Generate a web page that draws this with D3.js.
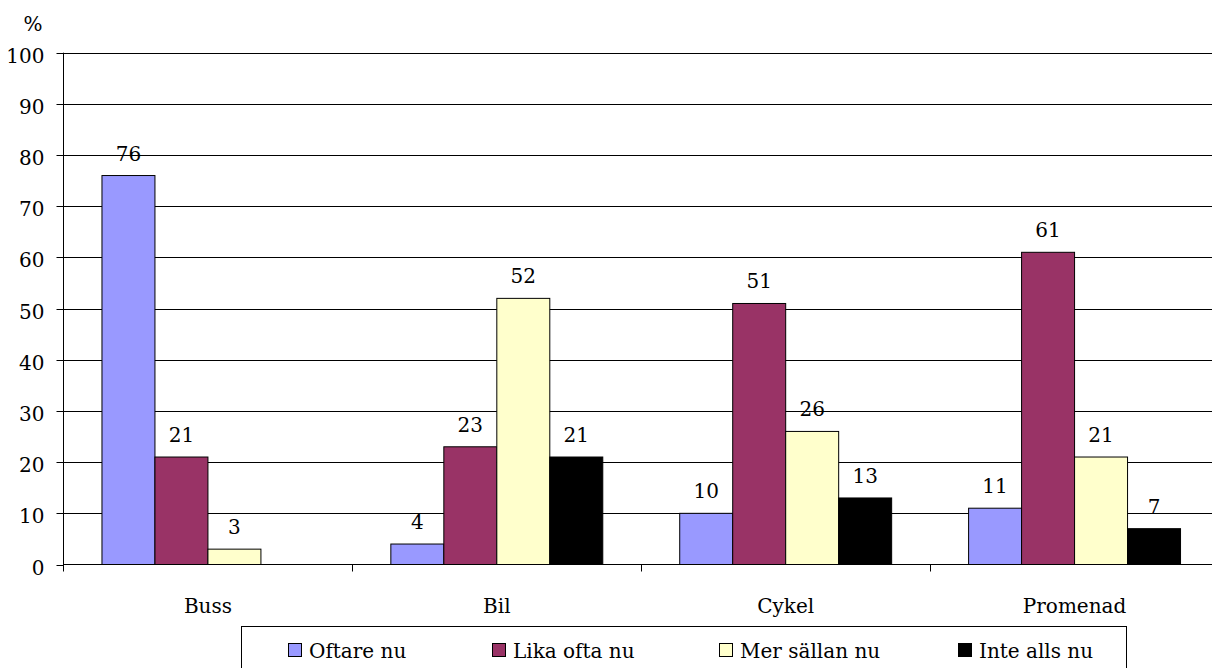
<!DOCTYPE html>
<html>
<head>
<meta charset="utf-8">
<script src="https://cdn.jsdelivr.net/npm/d3@7"></script>
<style>
  html, body { margin: 0; padding: 0; background: #fff; }
  svg { display: block; }
</style>
</head>
<body>
<svg id="chart" width="1212" height="668"></svg>
<script>
// Travel modes and how often each is used now
const categories = ["Buss", "Bil", "Cykel", "Promenad"];
const seriesNames = ["Oftare nu", "Lika ofta nu", "Mer sällan nu", "Inte alls nu"];
const oftareNu    = [76, 4, 10, 11];
const likaOftaNu  = [21, 23, 51, 61];
const merSallanNu = [3, 52, 26, 21];
const inteAllsNu  = [null, 21, 13, 7];
const yTicks = [0, 10, 20, 30, 40, 50, 60, 70, 80, 90, 100];
const seriesColors = ["#9999FF", "#993366", "#FFFFCC", "#000000"];

const seriesValues = [oftareNu, likaOftaNu, merSallanNu, inteAllsNu];
const FONT = "'DejaVu Serif', serif";
const FSIZE = "20px";

const svg = d3.select("#chart");
const plotLeft = 63.5, plotRight = 1219, plotTop = 52.7, plotBottom = 564.5;

const x0 = d3.scaleBand().domain(categories).range([plotLeft, plotRight]).padding(0);
const x1 = d3.scaleBand().domain(seriesNames).range([0, x0.bandwidth()])
  .paddingInner(0).paddingOuter(0.726);
const y = d3.scaleLinear().domain([0, 100]).range([plotBottom, plotTop]);

// horizontal gridlines
svg.append("g")
  .selectAll("line")
  .data(yTicks.filter(d => d > 0))
  .join("line")
  .attr("x1", plotLeft).attr("x2", 1212)
  .attr("y1", d => Math.round(y(d)) + 0.5).attr("y2", d => Math.round(y(d)) + 0.5)
  .attr("stroke", "#000").attr("stroke-width", 1);

// y axis
const yAxis = svg.append("g")
  .attr("transform", `translate(${plotLeft},0)`)
  .call(d3.axisLeft(y).tickValues(yTicks).tickSize(7).tickPadding(12).tickFormat(d3.format("d")));
yAxis.select(".domain").remove();
yAxis.attr("font-family", null).attr("font-size", null);
yAxis.selectAll(".tick line").attr("stroke", "#000");
yAxis.selectAll(".tick").attr("transform", d => `translate(0,${Math.round(y(d)) + 0.5})`);
yAxis.selectAll(".tick text")
  .style("font-family", FONT)
  .style("font-size", FSIZE).attr("fill", "#000").attr("dy", "0.45em");
svg.append("line")
  .attr("x1", plotLeft).attr("x2", plotLeft)
  .attr("y1", plotTop).attr("y2", plotBottom + 7)
  .attr("stroke", "#000");

// unit label
svg.append("text").attr("x", 33).attr("y", 31).attr("text-anchor", "middle")
  .style("font-family", FONT).style("font-size", FSIZE).text("%");

// bars
const groups = svg.append("g").selectAll("g")
  .data(categories)
  .join("g")
  .attr("transform", d => `translate(${x0(d)},0)`);

groups.selectAll("rect")
  .data((c, i) => seriesNames.map((s, j) => ({ s, v: seriesValues[j][i], color: seriesColors[j] })).filter(d => d.v != null))
  .join("rect")
  .attr("x", d => x1(d.s))
  .attr("y", d => y(d.v))
  .attr("width", x1.bandwidth())
  .attr("height", d => y(0) - y(d.v))
  .attr("fill", d => d.color)
  .attr("stroke", "#000").attr("stroke-width", 1);

groups.selectAll("text")
  .data((c, i) => seriesNames.map((s, j) => ({ s, v: seriesValues[j][i] })).filter(d => d.v != null))
  .join("text")
  .attr("x", d => x1(d.s) + x1.bandwidth() / 2)
  .attr("y", d => y(d.v) - 15)
  .attr("text-anchor", "middle")
  .style("font-family", FONT).style("font-size", FSIZE)
  .text(d => d.v);

// category axis
svg.append("line")
  .attr("x1", plotLeft).attr("x2", 1212)
  .attr("y1", plotBottom).attr("y2", plotBottom)
  .attr("stroke", "#000");
const xAxis = svg.append("g")
  .attr("transform", `translate(0,${plotBottom})`)
  .call(d3.axisBottom(x0).tickSize(0).tickPadding(0));
xAxis.select(".domain").remove();
xAxis.attr("font-family", null).attr("font-size", null);
xAxis.selectAll(".tick text")
  .style("font-family", FONT).style("font-size", FSIZE)
  .attr("fill", "#000").attr("dy", 0).attr("y", 48);
svg.append("g").selectAll("line")
  .data(categories.slice(1))
  .join("line")
  .attr("x1", d => Math.round(x0(d)) + 0.5).attr("x2", d => Math.round(x0(d)) + 0.5)
  .attr("y1", plotBottom).attr("y2", plotBottom + 7)
  .attr("stroke", "#000");

// legend
const legend = svg.append("g");
legend.append("rect")
  .attr("x", 241.5).attr("y", 626.5).attr("width", 885).attr("height", 60)
  .attr("fill", "#fff").attr("stroke", "#000");
const legendX = d3.scaleOrdinal().domain(seriesNames).range([288, 492, 719, 958]);
const items = legend.selectAll("g.item")
  .data(seriesNames)
  .join("g").attr("class", "item")
  .attr("transform", d => `translate(${legendX(d)},0)`);
items.append("rect")
  .attr("x", 0.5).attr("y", 643.5).attr("width", 13).attr("height", 13)
  .attr("fill", (d, i) => seriesColors[i]).attr("stroke", "#000");
items.append("text")
  .attr("x", 21).attr("y", 658)
  .style("font-family", FONT).style("font-size", FSIZE)
  .text(d => d);
</script>
</body>
</html>
